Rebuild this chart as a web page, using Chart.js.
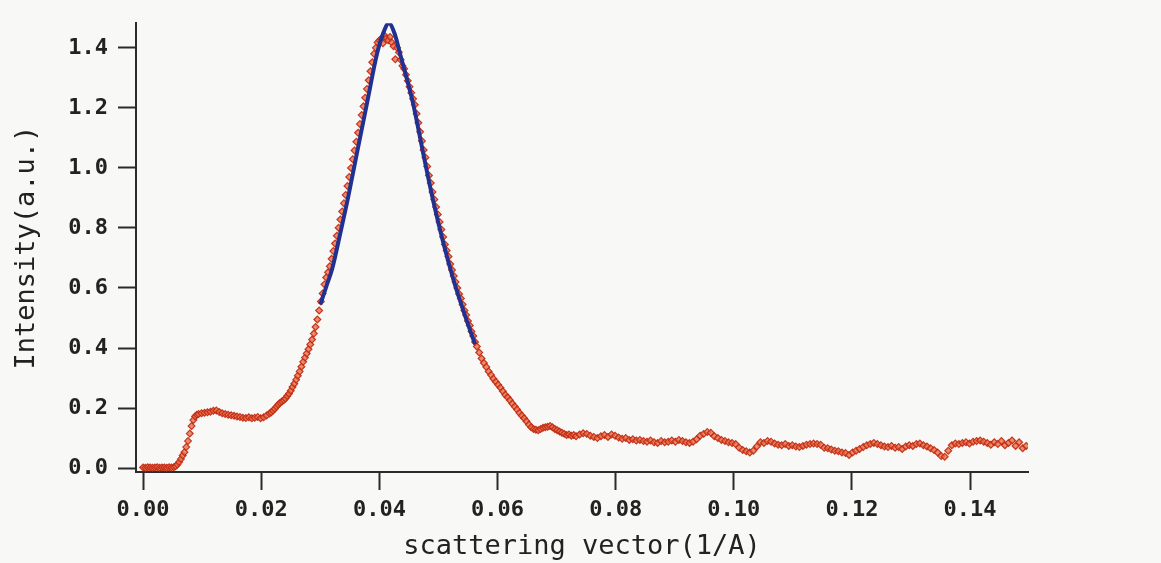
<!DOCTYPE html>
<html>
<head>
<meta charset="utf-8">
<title>scattering</title>
<script src="https://cdn.jsdelivr.net/npm/chart.js@4.4.1/dist/chart.umd.min.js"></script>
<style>
    body { margin: 0; background: #f8f9f6; }
    #grafico { display: block; }
</style>
</head>
<body>
<canvas id="grafico" width="1161" height="563"></canvas>
<script>
// q (1/A) de cada punto medido
const qValues = [
    0.0000, 0.0004, 0.0008, 0.0012, 0.0016, 0.0020, 0.0024, 0.0028, 0.0032, 0.0036, 0.0040, 0.0044, 0.0048, 0.0052,
    0.0055, 0.0058, 0.0061, 0.0064, 0.0067, 0.0070, 0.0073, 0.0076, 0.0079, 0.0082, 0.0085, 0.0088, 0.0091,
    0.0094, 0.0099, 0.0104, 0.0109, 0.0114, 0.0119, 0.0124, 0.0129, 0.0134, 0.0139, 0.0144, 0.0149, 0.0154,
    0.0159, 0.0164, 0.0169, 0.0174, 0.0179, 0.0184, 0.0189, 0.0194, 0.0199, 0.0204, 0.0209, 0.0214,
    0.0217, 0.0220, 0.0223, 0.0226, 0.0229, 0.0232, 0.0235, 0.0238, 0.0241, 0.0244, 0.0247, 0.0250, 0.0253, 0.0256,
    0.0259, 0.0262, 0.0265, 0.0268, 0.0271, 0.0274, 0.0277, 0.0280, 0.0283, 0.0286, 0.0289, 0.0292, 0.0295, 0.0298,
    0.0301, 0.0304, 0.0307, 0.0310, 0.0313, 0.0316, 0.0319, 0.0322, 0.0325, 0.0328, 0.0331, 0.0334, 0.0337, 0.0340,
    0.0343, 0.0346, 0.0349, 0.0352, 0.0355, 0.0358, 0.0361, 0.0364, 0.0367, 0.0370, 0.0373, 0.0376, 0.0379, 0.0382,
    0.0385, 0.0388, 0.0391, 0.0394, 0.0397, 0.0400,
    0.0403, 0.0406, 0.0409, 0.0412, 0.0415, 0.0418, 0.0421, 0.0424, 0.0427,
    0.0430, 0.0433, 0.0436, 0.0439, 0.0442, 0.0445, 0.0448, 0.0451, 0.0454, 0.0457, 0.0460, 0.0463, 0.0466, 0.0469,
    0.0472, 0.0475, 0.0478, 0.0481, 0.0484, 0.0487, 0.0490, 0.0493, 0.0496, 0.0499, 0.0502, 0.0505, 0.0508, 0.0511,
    0.0514, 0.0517, 0.0520, 0.0523, 0.0526, 0.0529, 0.0532, 0.0535, 0.0538, 0.0541, 0.0544, 0.0547, 0.0550, 0.0553,
    0.0556, 0.0559, 0.0562,
    0.0565, 0.0569, 0.0573, 0.0577, 0.0581, 0.0585, 0.0589, 0.0593, 0.0597, 0.0601, 0.0605, 0.0609, 0.0613, 0.0617,
    0.0621, 0.0625, 0.0629, 0.0633, 0.0637, 0.0641, 0.0645, 0.0649, 0.0653, 0.0657, 0.0661, 0.0665, 0.0669, 0.0673,
    0.0677, 0.0681, 0.0685, 0.0689, 0.0693, 0.0697, 0.0701, 0.0705, 0.0709, 0.0713, 0.0717, 0.0721, 0.0725, 0.0729,
    0.0733, 0.0739, 0.0745, 0.0751, 0.0757, 0.0763, 0.0769, 0.0775, 0.0781, 0.0787, 0.0793, 0.0799, 0.0805, 0.0811,
    0.0817, 0.0823, 0.0829, 0.0835, 0.0841, 0.0847, 0.0853, 0.0859, 0.0865, 0.0871, 0.0877, 0.0883, 0.0889, 0.0895,
    0.0901, 0.0907, 0.0913, 0.0919, 0.0925, 0.0931, 0.0937, 0.0943, 0.0949, 0.0955, 0.0961, 0.0967, 0.0973, 0.0979,
    0.0985, 0.0991, 0.0997, 0.1003, 0.1009, 0.1015, 0.1021, 0.1027, 0.1033, 0.1039, 0.1045, 0.1051, 0.1057, 0.1063,
    0.1069, 0.1075, 0.1081, 0.1087, 0.1093, 0.1099, 0.1105, 0.1111, 0.1117, 0.1123, 0.1129, 0.1135, 0.1141, 0.1147,
    0.1153, 0.1159, 0.1165, 0.1171, 0.1177, 0.1183, 0.1189, 0.1195, 0.1201, 0.1207, 0.1213, 0.1219, 0.1225, 0.1231,
    0.1237, 0.1243, 0.1249, 0.1255, 0.1261, 0.1267, 0.1273, 0.1279, 0.1285, 0.1291, 0.1297, 0.1303, 0.1309, 0.1315,
    0.1321, 0.1327, 0.1333, 0.1339, 0.1345, 0.1351, 0.1357, 0.1363, 0.1369, 0.1375, 0.1381, 0.1387, 0.1393, 0.1399,
    0.1405, 0.1411, 0.1417, 0.1423, 0.1429, 0.1435, 0.1441, 0.1447, 0.1453, 0.1459, 0.1465, 0.1471, 0.1477, 0.1483,
    0.1489, 0.1495
];

// intensidad medida (a.u.), misma longitud que qValues
const intensity = [
    0.002, 0.001, 0.003, 0.002, 0.001, 0.002, 0.003, 0.001, 0.002, 0.002, 0.001, 0.003, 0.002, 0.003,
    0.006, 0.012, 0.020, 0.030, 0.042, 0.053, 0.070, 0.090, 0.115, 0.140, 0.160, 0.172, 0.178,
    0.180, 0.183, 0.184, 0.186, 0.188, 0.191, 0.192, 0.187, 0.183, 0.180, 0.178, 0.176, 0.174,
    0.172, 0.170, 0.168, 0.167, 0.169, 0.166, 0.168, 0.170, 0.166, 0.169, 0.175, 0.182,
    0.186, 0.192, 0.198, 0.205, 0.212, 0.218, 0.222, 0.226, 0.232, 0.240, 0.248, 0.258, 0.270, 0.281,
    0.294, 0.308, 0.322, 0.338, 0.354, 0.368, 0.382, 0.396, 0.412, 0.428, 0.448, 0.470, 0.495, 0.525,
    0.555, 0.582, 0.612, 0.635, 0.652, 0.672, 0.697, 0.723, 0.748, 0.774, 0.801, 0.828, 0.855, 0.882,
    0.910, 0.940, 0.970, 1.000, 1.029, 1.058, 1.087, 1.117, 1.146, 1.176, 1.205, 1.234, 1.263, 1.292,
    1.322, 1.352, 1.380, 1.400, 1.418, 1.425,
    1.430, 1.415, 1.440, 1.432, 1.425, 1.436, 1.418, 1.405, 1.362,
    1.400, 1.385, 1.360, 1.340, 1.330, 1.310, 1.290, 1.270, 1.250, 1.230, 1.210, 1.180, 1.150, 1.120,
    1.090, 1.060, 1.035, 1.005, 0.975, 0.950, 0.920, 0.895, 0.870, 0.845, 0.820, 0.795, 0.770, 0.745,
    0.725, 0.705, 0.680, 0.660, 0.640, 0.620, 0.600, 0.580, 0.565, 0.545, 0.525, 0.510, 0.490, 0.475,
    0.455, 0.440, 0.420,
    0.405, 0.385, 0.365, 0.350, 0.337, 0.322, 0.310, 0.298, 0.288, 0.278, 0.268, 0.256, 0.244, 0.236,
    0.226, 0.215, 0.205, 0.195, 0.184, 0.175, 0.166, 0.156, 0.145, 0.136, 0.130, 0.128, 0.126, 0.130,
    0.134, 0.136, 0.138, 0.140, 0.136, 0.130, 0.126, 0.122, 0.118, 0.114, 0.110, 0.112, 0.108, 0.110,
    0.106, 0.112, 0.116, 0.114, 0.108, 0.104, 0.100, 0.106, 0.110, 0.104, 0.112, 0.108, 0.102, 0.098,
    0.100, 0.094, 0.096, 0.092, 0.094, 0.090, 0.088, 0.092, 0.086, 0.084, 0.090, 0.086, 0.088, 0.092,
    0.088, 0.094, 0.090, 0.086, 0.084, 0.088, 0.096, 0.108, 0.114, 0.120, 0.118, 0.106, 0.100, 0.094,
    0.090, 0.086, 0.084, 0.080, 0.068, 0.060, 0.056, 0.052, 0.058, 0.072, 0.086, 0.084, 0.090, 0.088,
    0.082, 0.078, 0.076, 0.080, 0.074, 0.076, 0.072, 0.070, 0.074, 0.078, 0.080, 0.082, 0.080, 0.078,
    0.068, 0.066, 0.062, 0.058, 0.056, 0.052, 0.050, 0.044, 0.052, 0.058, 0.064, 0.070, 0.076, 0.080,
    0.084, 0.080, 0.076, 0.072, 0.070, 0.074, 0.068, 0.070, 0.064, 0.072, 0.076, 0.074, 0.080, 0.082,
    0.076, 0.072, 0.066, 0.060, 0.052, 0.040, 0.038, 0.058, 0.076, 0.082, 0.080, 0.084, 0.086, 0.082,
    0.088, 0.090, 0.092, 0.088, 0.084, 0.078, 0.086, 0.080, 0.090, 0.076, 0.084, 0.092, 0.074, 0.086,
    0.066, 0.074
];

// curva de ajuste (azul) alrededor del pico
const fitQ = [0.0300, 0.0310, 0.0320, 0.0333, 0.0347, 0.0362, 0.0379, 0.0396, 0.0406, 0.0416,
    0.0426, 0.0435, 0.0457, 0.0474, 0.0491, 0.0508, 0.0525, 0.0541, 0.0553, 0.0562];
const fitI = [0.545, 0.604, 0.663, 0.775, 0.901, 1.049, 1.215, 1.380, 1.446, 1.482,
    1.446, 1.380, 1.215, 1.050, 0.891, 0.752, 0.630, 0.531, 0.462, 0.413];

const xTicks = [0.00, 0.02, 0.04, 0.06, 0.08, 0.10, 0.12, 0.14];
const yTicks = [0.0, 0.2, 0.4, 0.6, 0.8, 1.0, 1.2, 1.4];

const colorEje = "#2b2b2b";
const fuenteTicks = { family: "DejaVu Sans Mono", size: 22, weight: "bold" };
const fuenteTitulo = { family: "DejaVu Sans Mono", size: 27 };

const puntos = qValues.map((q, i) => ({ x: q, y: intensity[i] }));
const ajuste = fitQ.map((q, i) => ({ x: q, y: fitI[i] }));

const ctx = document.getElementById("grafico").getContext("2d");

new Chart(ctx, {
    type: "scatter",
    data: {
        datasets: [
            {
                data: ajuste,
                showLine: true,
                borderColor: "#22318f",
                borderWidth: 4,
                pointRadius: 0,
                cubicInterpolationMode: "monotone",
            },
            {
                data: puntos,
                pointStyle: "rectRot",
                pointRadius: 3.4,
                backgroundColor: "rgba(232, 110, 70, 0.8)",
                borderColor: "rgba(192, 40, 18, 0.9)",
                borderWidth: 1.2,
            },
        ],
    },
    options: {
        responsive: false,
        animation: false,
        layout: { padding: { top: 18, right: 133, bottom: 0, left: 0 } },
        plugins: { legend: { display: false }, tooltip: { enabled: false } },
        scales: {
            x: {
                type: "linear",
                min: -0.0012,
                max: 0.1498,
                afterFit: (s) => { s.height = 91; },
                afterBuildTicks: (s) => { s.ticks = xTicks.map((v) => ({ value: v })); },
                ticks: {
                    color: "#222",
                    font: fuenteTicks,
                    padding: 7,
                    maxRotation: 0,
                    callback: (v) => Number(v).toFixed(2),
                },
                grid: { drawOnChartArea: false, tickLength: 18, tickWidth: 2, tickColor: colorEje },
                border: { color: colorEje, width: 2 },
                title: {
                    display: true,
                    text: "scattering vector(1/A)",
                    color: "#222",
                    font: fuenteTitulo,
                    padding: { top: 0, bottom: 0 },
                },
            },
            y: {
                min: -0.013,
                max: 1.482,
                afterFit: (s) => { s.width = 136; },
                afterBuildTicks: (s) => { s.ticks = yTicks.map((v) => ({ value: v })); },
                ticks: {
                    color: "#222",
                    font: fuenteTicks,
                    padding: 10,
                    callback: (v) => Number(v).toFixed(1),
                },
                grid: { drawOnChartArea: false, tickLength: 18, tickWidth: 2, tickColor: colorEje },
                border: { color: colorEje, width: 2 },
                title: {
                    display: true,
                    text: "Intensity(a.u.)",
                    color: "#222",
                    font: fuenteTitulo,
                    padding: { top: 11, bottom: 0 },
                },
            },
        },
    },
});
</script>
</body>
</html>
